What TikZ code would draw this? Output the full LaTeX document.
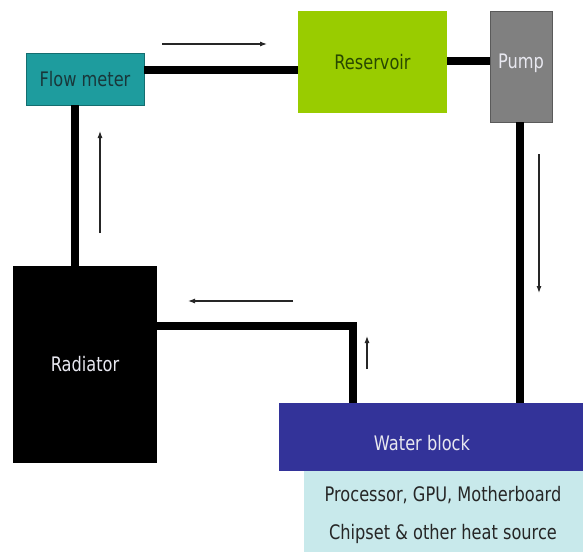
\documentclass[tikz,border=0pt]{standalone}
\usepackage{fontspec}
\setmainfont{DejaVu Sans}[FakeStretch=0.81]
\usetikzlibrary{arrows.meta}

\definecolor{meterteal}{RGB}{30,156,158}
\definecolor{meteredge}{RGB}{20,110,112}
\definecolor{metertext}{RGB}{25,55,58}
\definecolor{resgreen}{RGB}{153,204,0}
\definecolor{restext}{RGB}{40,72,0}
\definecolor{pumpgray}{RGB}{128,128,128}
\definecolor{pumpedge}{RGB}{90,90,90}
\definecolor{blockblue}{RGB}{51,51,153}
\definecolor{sourcecyan}{RGB}{200,233,235}
\definecolor{lighttext}{RGB}{232,232,240}

\tikzset{
  box/.style={rectangle, inner sep=0pt, font=\fontsize{20}{24}\selectfont},
  pipe/.style={line width=7.5pt, black},
  flow/.style={line width=1.1pt, black!85, -{Latex[length=7pt,width=5pt]}},
}

\begin{document}
\begin{tikzpicture}[x=1pt, y=-1pt]
\useasboundingbox[fill=white] (0,0) rectangle (583,552);

% components
\node[box, fill=meterteal, draw=meteredge, line width=0.8pt, text=metertext,
      minimum width=118pt, minimum height=52pt] (fm) at (85,79) {Flow meter};
\node[box, fill=resgreen, text=restext,
      minimum width=149pt, minimum height=102pt] (res) at (372.5,62) {Reservoir};
\node[box, fill=pumpgray, draw=pumpedge, line width=0.8pt,
      minimum width=62pt, minimum height=111pt] (pump) at (521,66.5) {};
\node[box, anchor=base, text=lighttext] (pumplbl) at (521,68) {Pump};
\node[box, fill=black, text=lighttext,
      minimum width=144pt, minimum height=197pt] (rad) at (85,364.5) {Radiator};
\node[box, fill=blockblue,
      minimum width=304pt, minimum height=68pt] (wb) at (431,437) {};
\node[box, text=lighttext] (wblbl) at (422,443) {Water block};
\node[box, fill=sourcecyan,
      minimum width=279pt, minimum height=81pt] (src) at (443.5,511.5) {};
\node[box, align=center, text=black!85,
      font=\fontsize{20}{38}\selectfont] (srclbl) at (443,514.5)
      {Processor, GPU, Motherboard\\Chipset \& other heat source};

% tubing
\draw[pipe] ([yshift=9pt]fm.east) -- ([yshift=9pt]fm.east -| res.west);
\draw[pipe] ([yshift=1pt]res.east) -- ([yshift=1pt]res.east -| pump.west);
\draw[pipe] ([xshift=-1pt]pump.south) -- ([xshift=-1pt]pump.south |- wb.north);
\draw[pipe] ([xshift=-78pt]wb.north) |- ([yshift=38.5pt]rad.east);
\draw[pipe] ([xshift=-10pt]rad.north) -- ([xshift=-10pt]rad.north |- fm.south);

% direction of flow
\coordinate (a1s) at (162,44);  \coordinate (a1e) at (267,44);
\coordinate (a2s) at (539,154); \coordinate (a2e) at (539,293);
\coordinate (a3s) at (293,301); \coordinate (a3e) at (188,301);
\coordinate (a4s) at (367,369); \coordinate (a4e) at (367,336);
\coordinate (a5s) at (100,233); \coordinate (a5e) at (100,131);
\draw[flow] (a1s) -- (a1e);
\draw[flow] (a2s) -- (a2e);
\draw[flow] (a3s) -- (a3e);
\draw[flow] (a4s) -- (a4e);
\draw[flow] (a5s) -- (a5e);
\end{tikzpicture}
\end{document}
